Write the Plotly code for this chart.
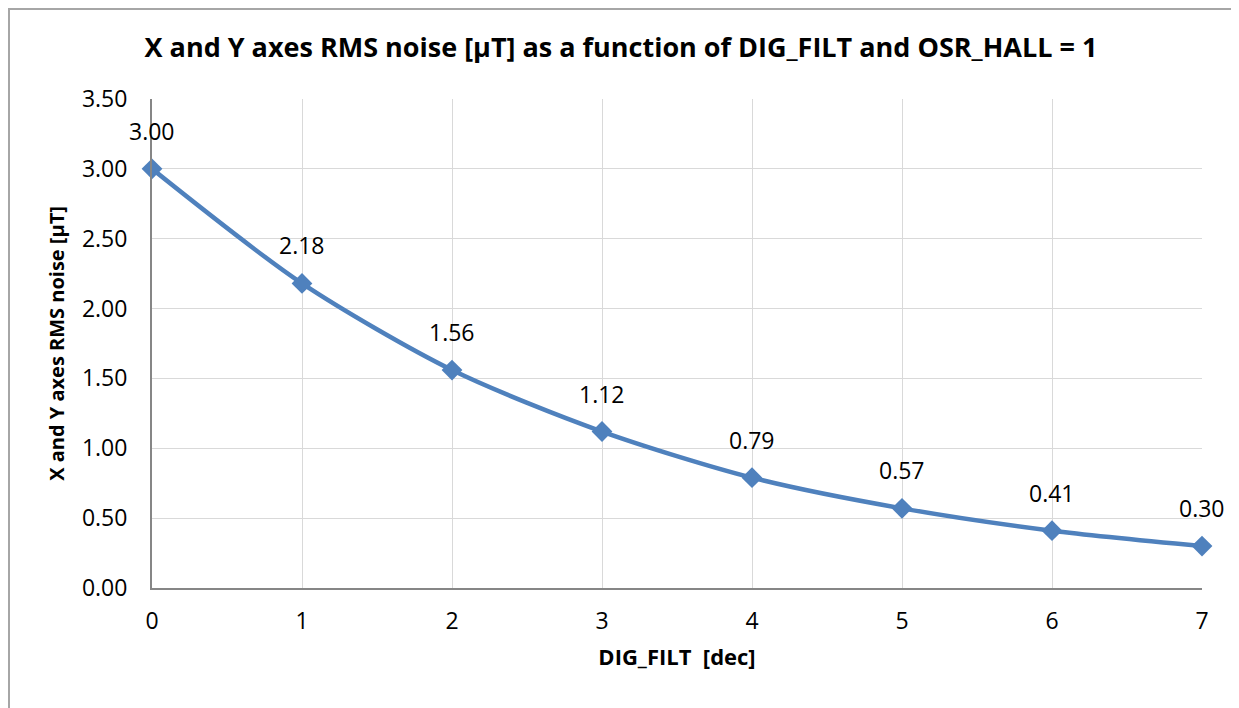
import plotly.graph_objs as go

# DIG_FILT setting vs. X/Y axes RMS noise
dig_filt = [0, 1, 2, 3, 4, 5, 6, 7]
rms_noise = [3.00, 2.18, 1.56, 1.12, 0.79, 0.57, 0.41, 0.30]
y_ticks = [0, 0.5, 1.0, 1.5, 2.0, 2.5, 3.0, 3.5]

BLUE = "#4F81BD"
FONT = "'Open Sans', Lato, sans-serif"

# page has an 8px body margin, so the figure is a bit smaller than the window
W, H = 1231, 700
L, R, T, B = 144, 37, 91, 120

fig = go.Figure()

fig.add_trace(
    go.Scatter(
        x=dig_filt,
        y=rms_noise,
        mode="lines+markers",
        line={"color": BLUE, "width": 4.5, "shape": "spline", "smoothing": 0.8},
        marker={"symbol": "diamond", "size": 16, "color": BLUE},
        cliponaxis=False,
        showlegend=False,
    )
)

# data labels above each point
for x, y in zip(dig_filt, rms_noise):
    fig.add_annotation(
        x=x,
        y=y,
        text="{:.2f}".format(y),
        showarrow=False,
        yshift=38,
        font={"size": 23, "color": "#000000", "family": FONT},
    )

# outer chart border (Excel style)
pw, ph = W - L - R, H - T - B
fig.add_shape(
    type="rect",
    xref="paper",
    yref="paper",
    x0=(1 - L) / pw,
    x1=(1228 - L) / pw,
    y0=(H - B - 720) / ph,
    y1=(H - B - 1) / ph,
    line={"color": "#A6A6A6", "width": 2},
    fillcolor="rgba(0,0,0,0)",
    layer="below",
)

fig.update_layout(
    width=W,
    height=H,
    margin={"l": L, "r": R, "t": T, "b": B},
    paper_bgcolor="white",
    plot_bgcolor="white",
    font={"family": FONT, "color": "#000000"},
    title={
        "text": "<b>X and Y axes RMS noise [µT] as a function of DIG_FILT and OSR_HALL = 1</b>",
        "x": (621 - 8) / W,
        "xanchor": "center",
        "y": 1 - 40 / H,
        "yanchor": "middle",
        "font": {"size": 27, "family": FONT},
    },
    xaxis={
        "range": [0, 7],
        "tickvals": dig_filt,
        "showgrid": True,
        "gridcolor": "#D9D9D9",
        "gridwidth": 1,
        "showline": True,
        "linecolor": "#868686",
        "linewidth": 2,
        "zeroline": False,
        "ticks": "",
        "ticklabelstandoff": 11,
        "tickfont": {"size": 23},
        "title": {
            "text": "<b>DIG_FILT  [dec]</b>",
            "font": {"size": 22},
            "standoff": 15,
        },
    },
    yaxis={
        "range": [0, 3.5],
        "tickvals": y_ticks,
        "tickformat": ".2f",
        "showgrid": True,
        "gridcolor": "#D9D9D9",
        "gridwidth": 1,
        "showline": True,
        "linecolor": "#868686",
        "linewidth": 2,
        "zeroline": False,
        "ticks": "",
        "ticklabelstandoff": 18,
        "tickfont": {"size": 23},
        "title": {
            "text": "<b>X and Y axes RMS noise [µT]</b>",
            "font": {"size": 20},
            "standoff": 12,
        },
    },
)

fig.write_html("out.html")
